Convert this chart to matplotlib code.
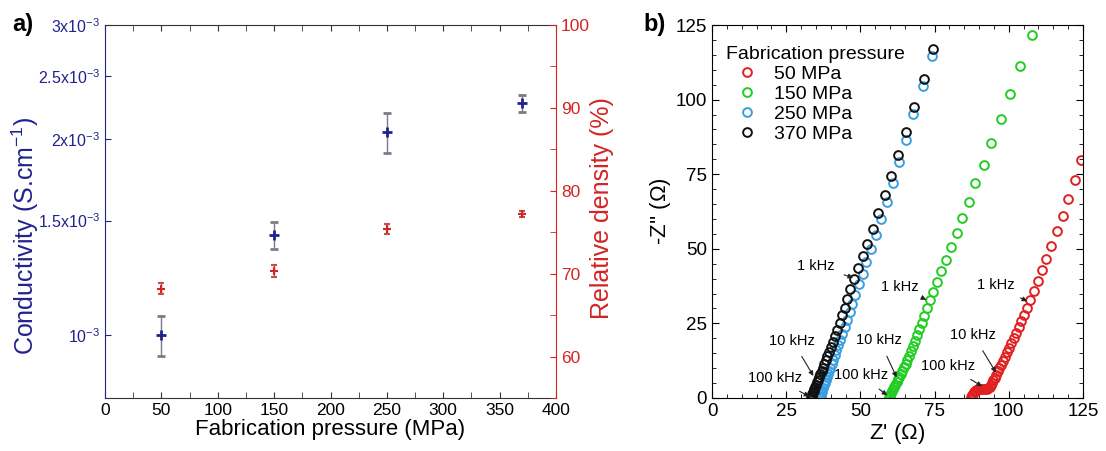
import matplotlib
matplotlib.use("Agg")
import matplotlib.pyplot as plt
from matplotlib.ticker import FixedLocator, MultipleLocator, NullLocator

plt.rcParams['font.family'] = ['Liberation Sans', 'DejaVu Sans']
plt.rcParams['mathtext.fontset'] = 'custom'
plt.rcParams['mathtext.rm'] = 'Liberation Sans'

# ---------------- panel a data ----------------
pressure = [50, 150, 250, 370]
conductivity = [1.00e-3, 1.425e-3, 2.05e-3, 2.275e-3]
conductivity_err = [0.07e-3, 0.068e-3, 0.145e-3, 0.07e-3]
density = [68.2, 70.3, 75.4, 77.2]
density_err = [0.7, 0.7, 0.6, 0.4]
cond_ticks = [1e-3, 1.5e-3, 2e-3, 2.5e-3, 3e-3]
cond_ticklabels = [r'10$^{-3}$', r'1.5x10$^{-3}$', r'2x10$^{-3}$', r'2.5x10$^{-3}$', r'3x10$^{-3}$']

# ---------------- panel b data (Z', -Z'') ----------------
z370_re = [74.6, 71.3, 68.2, 65.3, 62.6, 60.3, 58.2, 55.9, 54.1, 52.3, 50.8, 49.3, 48.0, 46.5, 45.6,
           44.7, 43.9, 43.0, 42.2, 41.4, 40.7, 40.0, 39.4, 38.8, 38.3, 37.8, 37.3, 36.9, 36.5, 36.1,
           35.7, 35.4, 35.1, 34.8, 34.5, 34.3, 34.0, 33.8, 33.6, 33.5]
z370_im = [117.1, 107.0, 97.5, 89.2, 81.6, 74.4, 67.9, 62.1, 56.6, 51.7, 47.5, 43.6, 39.9, 36.4, 33.1,
           30.3, 27.7, 25.2, 22.9, 20.8, 18.9, 17.1, 15.5, 14.0, 12.6, 11.3, 10.1, 9.0, 8.0, 7.0,
           6.1, 5.3, 4.5, 3.8, 3.1, 2.5, 1.9, 1.3, 0.8, 0.4]

z250_re = [74.1, 71.0, 67.8, 65.3, 63.0, 61.0, 58.9, 57.1, 55.3, 53.6, 51.9, 50.8, 49.4, 48.2, 47.3,
           46.4, 45.5, 44.7, 43.9, 43.2, 42.5, 41.9, 41.3, 40.8, 40.3, 39.8, 39.4, 39.0, 38.6, 38.3,
           38.0, 37.7, 37.4, 37.2, 37.0, 36.8, 36.6, 36.5]
z250_im = [114.5, 104.5, 95.1, 86.6, 79.1, 72.1, 65.6, 59.9, 54.7, 50.1, 45.6, 41.7, 38.1, 34.6, 31.6,
           28.8, 26.2, 23.8, 21.6, 19.6, 17.7, 16.0, 14.4, 12.9, 11.5, 10.2, 9.0, 7.9, 6.9, 5.9,
           5.0, 4.2, 3.4, 2.7, 2.0, 1.4, 0.8, 0.3]

z150_re = [107.8, 103.8, 100.3, 97.3, 94.1, 91.6, 88.6, 86.6, 84.2, 82.4, 80.5, 78.8, 77.3, 75.7, 74.6,
           73.3, 72.4, 71.5, 70.7, 69.9, 69.1, 68.4, 67.7, 67.0, 66.4, 65.8, 65.2, 64.6, 64.1, 63.6,
           63.1, 62.6, 62.2, 61.8, 61.4, 61.0, 60.7, 60.4, 60.1, 59.9, 59.7]
z150_im = [121.6, 111.3, 101.9, 93.4, 85.6, 78.1, 71.9, 65.8, 60.3, 55.3, 50.6, 46.4, 42.5, 38.9, 35.6,
           32.7, 30.0, 27.5, 25.2, 23.0, 21.0, 19.1, 17.3, 15.7, 14.2, 12.8, 11.5, 10.3, 9.2, 8.1,
           7.1, 6.2, 5.3, 4.5, 3.7, 3.0, 2.3, 1.7, 1.1, 0.6, 0.2]

z50_re = [124.3, 122.3, 120.1, 118.1, 116.1, 114.2, 112.5, 111.1, 109.7, 108.5, 107.1,
          106.1, 105.1, 104.2, 103.3, 102.4, 101.6, 100.8, 100.0, 99.3, 98.6, 97.9, 97.3, 96.7, 96.2,
          95.7, 95.2, 94.8, 94.4, 94.0, 93.6, 93.1, 92.6, 92.0, 91.4, 90.8, 90.2, 89.6, 89.1, 88.6,
          88.2, 87.9, 87.6, 87.4]
z50_im = [79.7, 73.0, 66.7, 61.1, 55.9, 51.1, 46.7, 42.8, 39.1, 35.8, 32.7,
          30.2, 27.9, 25.8, 23.8, 21.9, 20.1, 18.4, 16.8, 15.3, 13.9, 12.5, 11.2, 10.0, 8.9,
          7.8, 6.8, 5.9, 5.1, 4.4, 3.8, 3.4, 3.1, 3.0, 3.0, 3.0, 3.0, 2.9, 2.7, 2.4,
          2.0, 1.5, 1.0, 0.5]

series_labels = ['50 MPa', '150 MPa', '250 MPa', '370 MPa']

# frequency annotations: label, text position, arrow tip
freq_labels = ['1 kHz', '10 kHz', '100 kHz'] * 3
freq_text_xy = [(35.0, 44.2), (27.1, 19.2), (21.2, 6.6),
                (63.3, 37.3), (56.4, 19.4), (50.2, 7.7),
                (95.5, 37.9), (88.0, 21.1), (79.6, 10.7)]
freq_tip_xy = [(48.0, 40.2), (34.4, 7.0), (33.2, 0.3),
               (72.6, 32.7), (62.4, 6.5), (59.4, 0.6),
               (106.6, 32.2), (95.9, 8.2), (91.4, 3.7)]

# ---------------- figure ----------------
W, H = 1106, 451
fig = plt.figure(figsize=(W / 100, H / 100), dpi=100)

blue = '#22228f'
red = '#d42424'
tick_fs_a = 12.5
tick_fs_b = 13.5
label_fs = 16
ylabel_fs_a = 18

# Panel a
ax = fig.add_axes([105 / W, 1 - 398 / H, 451 / W, 373 / H])
ax.set_yscale('log')
ax.set_xlim(0, 400)
ax.set_ylim(8.0e-4, 3e-3)
ax.errorbar(pressure, conductivity, yerr=conductivity_err, fmt='+', color=blue,
            ms=7.5, mew=2, ecolor='#7a7a8a', elinewidth=1, capsize=3, capthick=1)
ax.yaxis.set_major_locator(FixedLocator(cond_ticks))
ax.yaxis.set_minor_locator(NullLocator())
ax.set_yticklabels(cond_ticklabels)
ax.xaxis.set_major_locator(MultipleLocator(50))
ax.xaxis.set_minor_locator(MultipleLocator(25))
ax.tick_params(axis='x', which='both', direction='in', top=True, labelsize=tick_fs_a,
               color='#333333', length=4)
ax.tick_params(axis='y', direction='in', colors=blue, labelsize=11.5, length=4)
ax.spines['left'].set_color(blue)
ax.spines['right'].set_visible(False)
ax.spines['top'].set_color('#333333')
ax.spines['bottom'].set_color('#333333')
ax.set_xlabel('Fabrication pressure (MPa)', fontsize=label_fs, labelpad=1)
ax.set_ylabel(r'Conductivity (S.cm$^{-1}$)', fontsize=ylabel_fs_a, color=blue)
ax.yaxis.set_label_coords(-0.142, 0.434)

ax2 = ax.twinx()
ax2.set_ylim(55, 100)
ax2.errorbar(pressure, density, yerr=density_err, fmt='+', color=red,
             ms=6, mew=1.5, ecolor='#c05050', elinewidth=1, capsize=2.5, capthick=1)
ax2.yaxis.set_major_locator(MultipleLocator(10))
ax2.yaxis.set_minor_locator(MultipleLocator(5))
ax2.tick_params(axis='y', which='both', direction='in', colors=red, labelsize=tick_fs_a, length=4)
ax2.spines['right'].set_color(red)
ax2.spines['left'].set_visible(False)
ax2.spines['top'].set_visible(False)
ax2.spines['bottom'].set_visible(False)
ax2.set_ylabel('Relative density (%)', fontsize=ylabel_fs_a, color=red)
ax2.yaxis.set_label_coords(1.075, 0.51)

fig.text(12 / W, 1 - 24 / H, 'a)', fontsize=17, fontweight='bold', va='center', ha='left')

# Panel b
bx = fig.add_axes([712 / W, 1 - 398 / H, 371 / W, 373 / H])
series = [(z50_re, z50_im, '#e02020'), (z150_re, z150_im, '#22cc22'),
          (z250_re, z250_im, '#3a9ee0'), (z370_re, z370_im, '#111111')]
for (xr, yi, c), lab in zip(series, series_labels):
    bx.plot(xr, yi, 'o', mfc='none', mec=c, ms=6.3, mew=1.4, label=lab, linestyle='none')
bx.set_xlim(0, 125)
bx.set_ylim(0, 125)
for a in (bx.xaxis, bx.yaxis):
    a.set_major_locator(MultipleLocator(25))
    a.set_minor_locator(MultipleLocator(5))
bx.tick_params(which='both', direction='in', top=True, right=True, labelsize=tick_fs_b)
bx.tick_params(which='major', length=5)
bx.tick_params(which='minor', length=3)
bx.set_xlabel(r"Z' ($\Omega$)", fontsize=label_fs, labelpad=1)
bx.set_ylabel(r"-Z'' ($\Omega$)", fontsize=label_fs, labelpad=2)
leg = bx.legend(title='Fabrication pressure', loc='upper left', frameon=False,
                fontsize=14, title_fontsize=14, handletextpad=0.3, borderaxespad=0.3,
                labelspacing=0.12, handlelength=2.2, bbox_to_anchor=(0.0, 0.98))
leg._legend_box.align = 'left'

for lab, txy, tip in zip(freq_labels, freq_text_xy, freq_tip_xy):
    bx.annotate(lab, xy=tip, xytext=txy, fontsize=10.5, ha='center', va='center',
                arrowprops=dict(arrowstyle='-|>', color='#222222', lw=0.8,
                                mutation_scale=7, shrinkA=5, shrinkB=1))

fig.text(643 / W, 1 - 24 / H, 'b)', fontsize=17, fontweight='bold', va='center', ha='left')

fig.savefig('out.png', dpi=100)
